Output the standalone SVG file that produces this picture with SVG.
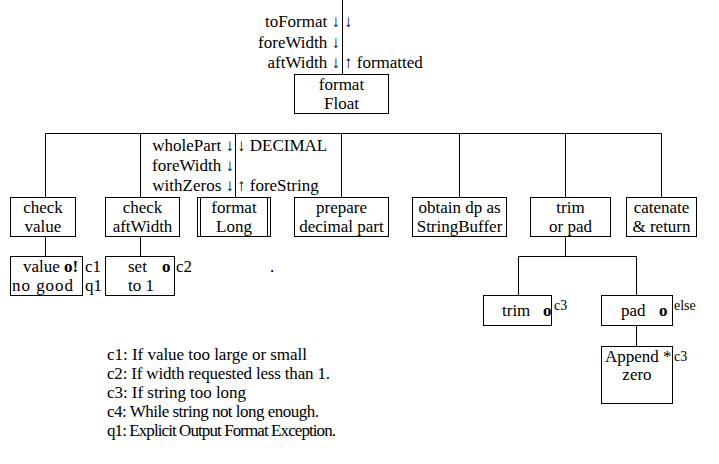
<svg xmlns="http://www.w3.org/2000/svg" width="719" height="464" viewBox="0 0 719 464">
<style>
text{font-family:"Liberation Serif","Times New Roman","DejaVu Serif",serif;font-size:17px;fill:#000}
.c{text-anchor:middle}
.e{text-anchor:end}
.b{font-weight:bold}
.s{font-size:14px}
.lg{font-size:16.5px}
.box{fill:#fff;stroke:#000;stroke-width:1}
.ln{fill:none;stroke:#000;stroke-width:1}
</style>
<rect x="0" y="0" width="719" height="464" fill="#fff"/>
<g id="connectors" class="ln">
<path d="M342.5 0V74.5"/>
<path d="M45.5 133.5H661.5"/>
<path d="M45.5 133.5V197.5M140.5 133.5V197.5M235.5 133.5V197.5M341.5 133.5V197.5M459.5 133.5V197.5M565.5 133.5V197.5M661.5 133.5V197.5"/>
<path d="M45.5 236.5V256.5M140.5 236.5V256.5"/>
<path d="M565.5 236.5V256.5M518.5 256.5H636.5M518.5 256.5V295.5M636.5 256.5V295.5"/>
<path d="M636.5 325.5V346.5"/>
</g>
<g id="flow-labels">
<text x="340" y="27" class="e">toFormat ↓</text>
<text x="344" y="27">↓</text>
<text x="340" y="48" class="e">foreWidth ↓</text>
<text x="340" y="68" class="e">aftWidth ↓</text>
<text x="344" y="68">↑ formatted</text>
<text x="234" y="151" class="e">wholePart ↓</text>
<text x="237" y="151">↓ DECIMAL</text>
<text x="234" y="171" class="e">foreWidth ↓</text>
<text x="234" y="191" class="e">withZeros ↓</text>
<text x="237" y="191">↑ foreString</text>
</g>
<g id="formatFloat">
<rect class="box" x="294.5" y="74.5" width="94" height="39"/>
<text x="341.5" y="90" class="c">format</text>
<text x="341.5" y="109" class="c">Float</text>
</g>
<g id="checkValue">
<rect class="box" x="10.5" y="197.5" width="65" height="39"/>
<text x="43" y="213" class="c">check</text>
<text x="43" y="232" class="c">value</text>
</g>
<g id="checkAftWidth">
<rect class="box" x="105.5" y="197.5" width="74" height="39"/>
<text x="142.5" y="213" class="c">check</text>
<text x="142.5" y="232" class="c">aftWidth</text>
</g>
<g id="formatLong">
<rect class="box" x="197.5" y="197.5" width="73" height="39"/>
<path class="ln" d="M200.5 197.5V236.5M267.5 197.5V236.5"/>
<text x="234" y="213" class="c">format</text>
<text x="234" y="232" class="c">Long</text>
</g>
<g id="prepareDecimal">
<rect class="box" x="294.5" y="197.5" width="94" height="39"/>
<text x="341.5" y="213" class="c">prepare</text>
<text x="341.5" y="232" class="c">decimal part</text>
</g>
<g id="obtainDp">
<rect class="box" x="412.5" y="197.5" width="94" height="39"/>
<text x="459.5" y="213" class="c">obtain dp as</text>
<text x="459.5" y="232" class="c">StringBuffer</text>
</g>
<g id="trimOrPad">
<rect class="box" x="530.5" y="197.5" width="80" height="39"/>
<text x="570.5" y="213" class="c">trim</text>
<text x="570.5" y="232" class="c">or pad</text>
</g>
<g id="catenate">
<rect class="box" x="626.5" y="197.5" width="70" height="39"/>
<text x="661.5" y="213" class="c">catenate</text>
<text x="661.5" y="232" class="c">&amp; return</text>
</g>
<g id="valueNoGood">
<rect class="box" x="10.5" y="256.5" width="72" height="39"/>
<text x="23" y="272">value <tspan class="b">o!</tspan></text>
<text x="12" y="291" textLength="61">no good</text>
<text x="85" y="272">c1</text>
<text x="85" y="291">q1</text>
</g>
<g id="setTo1">
<rect class="box" x="105.5" y="256.5" width="69" height="39"/>
<text x="128" y="272">set</text>
<text x="162" y="272" class="b">o</text>
<text x="128" y="291">to 1</text>
<text x="176" y="272">c2</text>
</g>
<text x="270" y="272">.</text>
<g id="trim">
<rect class="box" x="483.5" y="295.5" width="68" height="30"/>
<text x="502" y="316">trim</text>
<text x="543" y="316" class="b">o</text>
<text x="554" y="310" class="s">c3</text>
</g>
<g id="pad">
<rect class="box" x="601.5" y="295.5" width="71" height="30"/>
<text x="621" y="316">pad</text>
<text x="659" y="316" class="b">o</text>
<text x="674" y="310" class="s">else</text>
</g>
<g id="appendZero">
<rect class="box" x="601.5" y="346.5" width="71" height="57"/>
<text x="605" y="362">Append *</text>
<text x="637" y="380" class="c">zero</text>
<text x="674" y="361" class="s">c3</text>
</g>
<g id="legend" class="lg">
<text x="107" y="360" textLength="200">c1: If value too large or small</text>
<text x="107" y="379" textLength="223">c2: If width requested less than 1.</text>
<text x="107" y="398" textLength="139">c3: If string too long</text>
<text x="107" y="417" textLength="212">c4: While string not long enough.</text>
<text x="107" y="436" textLength="229">q1: Explicit Output Format Exception.</text>
</g>
</svg>
